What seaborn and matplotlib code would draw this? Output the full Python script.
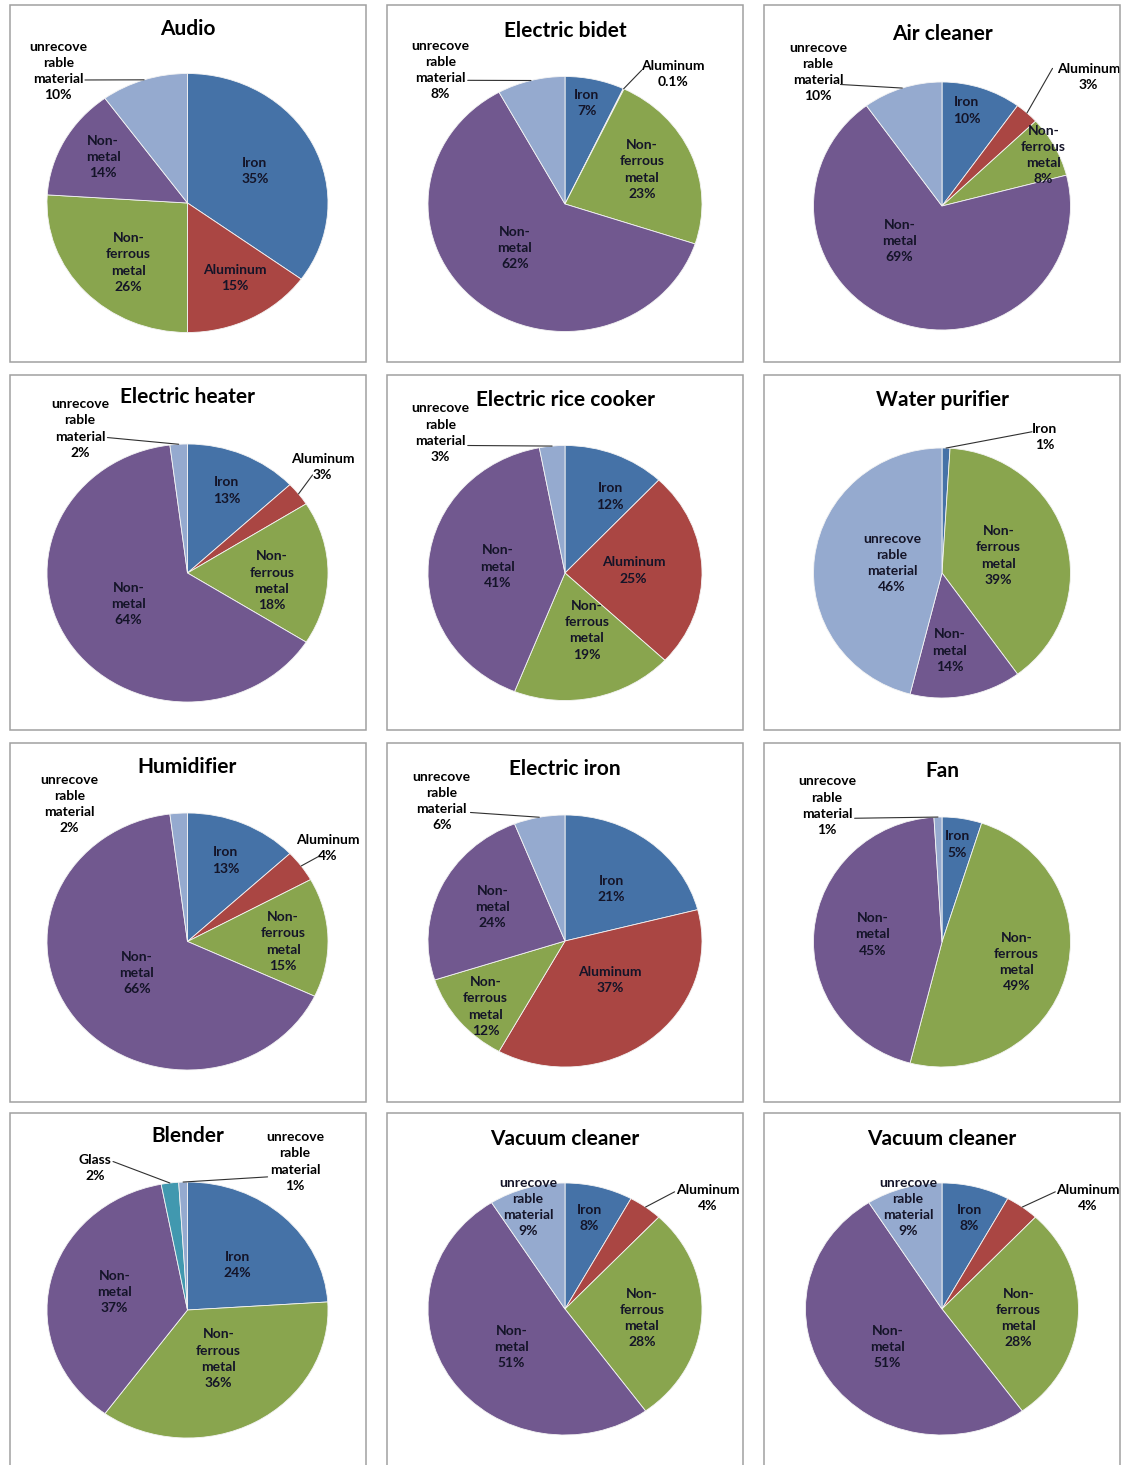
import numpy as np
import seaborn as sns
import matplotlib.pyplot as plt
from matplotlib.patches import Rectangle

# Material categories (clockwise from 12 o'clock)
materials = ["Iron", "Aluminum", "Non-ferrous metal", "Non-metal", "Glass", "unrecoverable material"]
keys = ["Fe", "Al", "NF", "NM", "Gl", "U"]
label_names = {
    "Fe": "Iron",
    "Al": "Aluminum",
    "NF": "Non-\nferrous\nmetal",
    "NM": "Non-\nmetal",
    "Gl": "Glass",
    "U": "unrecove\nrable\nmaterial",
}

# Product titles and shares (%), aligned with materials; 0 = not present
products = ["Audio", "Electric bidet", "Air cleaner",
            "Electric heater", "Electric rice cooker", "Water purifier",
            "Humidifier", "Electric iron", "Fan",
            "Blender", "Vacuum cleaner", "Vacuum cleaner"]
audio = [35, 15, 26, 14, 0, 10]
electric_bidet = [7, 0.1, 23, 62, 0, 8]
air_cleaner = [10, 3, 8, 69, 0, 10]
electric_heater = [13, 3, 18, 64, 0, 2]
rice_cooker = [12, 25, 19, 41, 0, 3]
water_purifier = [1, 0, 39, 14, 0, 46]
humidifier = [13, 4, 15, 66, 0, 2]
electric_iron = [21, 37, 12, 24, 0, 6]
fan = [5, 0, 49, 45, 0, 1]
blender = [24, 0, 36, 37, 2, 1]
vacuum_cleaner_a = [8, 4, 28, 51, 0, 9]
vacuum_cleaner_b = [8, 4, 28, 51, 0, 9]
shares = [audio, electric_bidet, air_cleaner, electric_heater, rice_cooker, water_purifier,
          humidifier, electric_iron, fan, blender, vacuum_cleaner_a, vacuum_cleaner_b]

sns.set_theme(style="white")
plt.rcParams["font.family"] = ["Lato", "DejaVu Sans"]

palette = sns.color_palette(["#4572A7", "#AA4643", "#89A54E", "#71588F", "#4198AF", "#95AACF"])
color_of = dict(zip(keys, palette))

W, H = 1123, 1465
fig = plt.figure(figsize=(W / 100, H / 100), dpi=100)
fig.patch.set_facecolor("white")

# panel frames (pixels)
col_x = [(10, 366), (387, 743), (764, 1120)]
row_y = [(5, 362), (375, 730), (743, 1102), (1113, 1480)]
for (y0, y1) in row_y:
    for (x0, x1) in col_x:
        fig.add_artist(Rectangle((x0 / W, 1 - y1 / H), (x1 - x0) / W, (y1 - y0) / H,
                                 transform=fig.transFigure, fill=False,
                                 edgecolor="#A0A0A0", linewidth=1.1))

# pie geometry: centre x, centre y, radius x, radius y, title baseline (pixels)
geometry = [
    (187.5, 203, 140.5, 129.5, 35), (565, 204, 137, 127.5, 37), (942, 206, 128.5, 124, 40),
    (187.5, 573, 140.5, 129, 403), (565, 573, 137, 127.5, 406), (942, 573, 128.5, 125, 406),
    (187.5, 941.5, 140.5, 128.5, 773), (565, 941, 137, 126, 775), (942, 942, 128.5, 125, 777),
    (187.5, 1310, 140.5, 128, 1142), (565, 1309, 137, 126, 1145), (942, 1309, 136.5, 126, 1145),
]

# label placement in radius units; outside labels: (text x, text y, leader x, leader y)
inside_pos = [
    {"Fe": (0.48, 0.25), "Al": (0.34, -0.58), "NF": (-0.42, -0.46), "NM": (-0.60, 0.355)},
    {"Fe": (0.16, 0.79), "NF": (0.56, 0.27), "NM": (-0.365, -0.345)},
    {"Fe": (0.19, 0.77), "NF": (0.79, 0.41), "NM": (-0.33, -0.28)},
    {"Fe": (0.28, 0.64), "NF": (0.60, -0.06), "NM": (-0.42, -0.24)},
    {"Fe": (0.33, 0.60), "Al": (0.50, 0.02), "NF": (0.16, -0.45), "NM": (-0.49, 0.05)},
    {"NF": (0.44, 0.14), "NM": (0.06, -0.62), "U": (-0.39, 0.08)},
    {"Fe": (0.27, 0.63), "NF": (0.68, 0.0), "NM": (-0.36, -0.245)},
    {"Fe": (0.34, 0.41), "Al": (0.33, -0.31), "NF": (-0.58, -0.52), "NM": (-0.53, 0.27)},
    {"Fe": (0.12, 0.78), "NF": (0.58, -0.16), "NM": (-0.54, 0.06)},
    {"Fe": (0.355, 0.35), "NF": (0.22, -0.38), "NM": (-0.52, 0.14)},
    {"Fe": (0.18, 0.72), "NF": (0.56, -0.07), "NM": (-0.39, -0.30), "U": (-0.27, 0.81)},
    {"Fe": (0.20, 0.72), "NF": (0.56, -0.07), "NM": (-0.40, -0.30), "U": (-0.25, 0.81)},
]
outside_pos = [
    {"U": (-0.92, 1.02, -0.73, 0.95)},
    {"Al": (0.79, 1.02, 0.56, 1.05), "U": (-0.91, 1.05, -0.71, 0.97)},
    {"Al": (1.14, 1.04, 0.86, 1.11), "U": (-0.965, 1.08, -0.79, 0.98)},
    {"Al": (0.96, 0.82, 0.89, 0.76), "U": (-0.765, 1.12, -0.57, 1.05)},
    {"U": (-0.91, 1.10, -0.71, 1.0)},
    {"Fe": (0.80, 1.09, 0.70, 1.13)},
    {"Al": (1.0, 0.73, 0.93, 0.66), "U": (-0.84, 1.07, None, None)},
    {"U": (-0.90, 1.11, -0.69, 1.02)},
    {"U": (-0.895, 1.09, -0.68, 0.99)},
    {"Gl": (-0.66, 1.11, -0.53, 1.16), "U": (0.765, 1.16, 0.57, 1.04)},
    {"Al": (1.04, 0.88, 0.80, 0.93)},
    {"Al": (1.07, 0.88, 0.83, 0.93)},
]

label_font = dict(fontsize=10, fontweight="bold", ha="center", va="center",
                  linespacing=1.42, multialignment="center")

for i, (title, vals) in enumerate(zip(products, shares)):
    cx, cy, rx, ry, tb = geometry[i]
    ax = fig.add_axes([(cx - rx) / W, 1 - (cy + ry) / H, 2 * rx / W, 2 * ry / H])
    present = [(k, v) for k, v in zip(keys, vals) if v > 0]
    ks = [k for k, _ in present]
    vs = [v for _, v in present]
    ax.pie(vs, colors=[color_of[k] for k in ks], startangle=90, counterclock=False,
           radius=1, wedgeprops=dict(edgecolor="#F4F4F4", linewidth=0.6))
    ax.set_aspect("auto")
    ax.set_xlim(-1, 1)
    ax.set_ylim(-1, 1)
    ax.axis("off")

    total = sum(vs)
    cum = 0
    for k, v in present:
        mid = np.deg2rad(90 - (cum + v / 2) / total * 360)
        cum += v
        txt = f"{label_names[k]}\n{v:g}%"
        if k in inside_pos[i]:
            x, y = inside_pos[i][k]
            ax.text(x, y, txt, color="#141428", clip_on=False, **label_font)
        elif k in outside_pos[i]:
            tx, ty, lx, ly = outside_pos[i][k]
            ax.text(tx, ty, txt, color="black", clip_on=False, **label_font)
            if lx is not None:
                ax.plot([lx, np.cos(mid)], [ly, np.sin(mid)], color="#303030",
                        linewidth=0.8, clip_on=False)

    fig.text(cx / W, 1 - tb / H, title, ha="center", va="baseline",
             fontsize=15, fontweight="bold", color="black")

fig.savefig("out.png", dpi=100, facecolor="white")
